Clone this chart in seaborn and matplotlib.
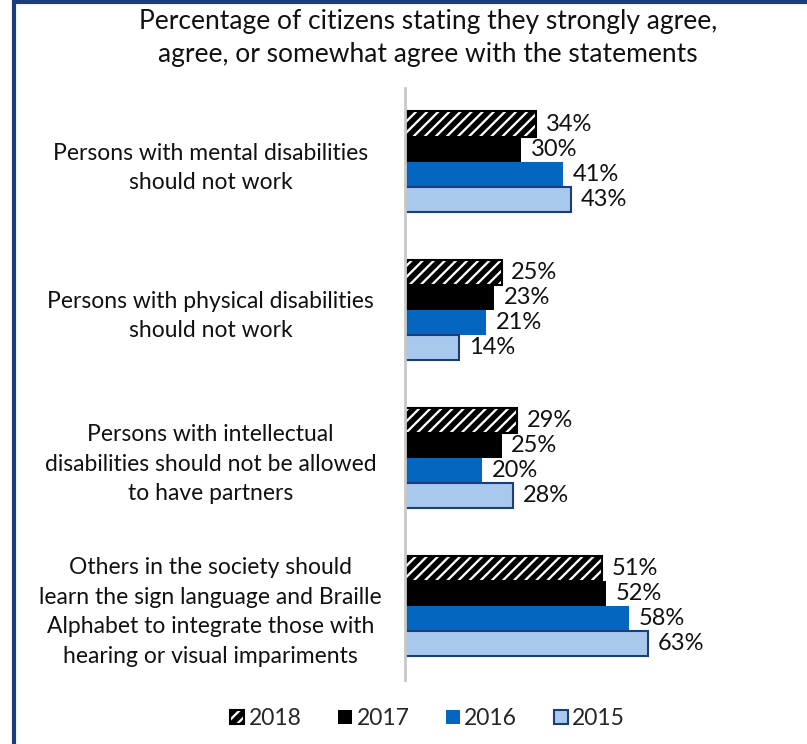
import matplotlib
matplotlib.use("Agg")
import matplotlib.pyplot as plt
import seaborn as sns
import pandas as pd
from matplotlib.patches import Rectangle
from matplotlib.lines import Line2D

categories = [
    "Persons with mental disabilities\nshould not work",
    "Persons with physical disabilities\nshould not work",
    "Persons with intellectual\ndisabilities should not be allowed\nto have partners",
    "Others in the society should\nlearn the sign language and Braille\nAlphabet to integrate those with\nhearing or visual impariments",
]
years = ["2018", "2017", "2016", "2015"]
v2018 = [34, 25, 29, 51]
v2017 = [30, 23, 25, 52]
v2016 = [41, 21, 20, 58]
v2015 = [43, 14, 28, 63]
title = "Percentage of citizens stating they strongly agree,\nagree, or somewhat agree with the statements"

series = {"2018": v2018, "2017": v2017, "2016": v2016, "2015": v2015}
rows = []
for y in years:
    for c, v in zip(categories, series[y]):
        rows.append({"category": c, "year": y, "value": v})
df = pd.DataFrame(rows)

sns.set_style("white")
plt.rcParams["font.family"] = ["Lato", "DejaVu Sans"]
plt.rcParams["hatch.linewidth"] = 4

fig = plt.figure(figsize=(8.07, 7.44), dpi=100)
ax = fig.add_axes([0.502, 0.086, 0.478, 0.796])

face = {"2018": "white", "2017": "black", "2016": "#0466BF", "2015": "#A8C8EE"}
edge = {"2018": "black", "2017": "black", "2016": "#0466BF", "2015": "#1B3D7C"}

sns.barplot(data=df, y="category", x="value", hue="year", hue_order=years,
            order=categories, orient="h", width=0.68, palette=face,
            ax=ax, legend=False, saturation=1)

for cont, y in zip(ax.containers, years):
    for bar in cont:
        bar.set_edgecolor(edge[y])
        bar.set_linewidth(1.5 if y in ("2018", "2015") else 0)
        if y == "2018":
            bar.set_hatch("///")
    ax.bar_label(cont, labels=[f"{int(v)}%" for v in cont.datavalues],
                 padding=7, fontsize=17, color="#111111")

ax.set_xlim(0, 100)
ax.set_ylim(3.5, -0.5)
ax.set_xlabel("")
ax.set_ylabel("")
ax.set_xticks([])
for s in ["top", "right", "bottom"]:
    ax.spines[s].set_visible(False)
ax.spines["left"].set_color("#C8C8C8")
ax.spines["left"].set_linewidth(2)
ax.tick_params(axis="y", length=0, pad=140)
for lab in ax.get_yticklabels():
    lab.set_ha("center")
    lab.set_multialignment("center")
    lab.set_fontsize(16.5)
    lab.set_color("#111111")
    lab.set_linespacing(1.5)

fig.text(0.53, 0.988, title, ha="center", va="top", fontsize=19,
         linespacing=1.4, color="#111111")

handles = []
for y in years:
    h = Rectangle((0, 0), 1, 1, facecolor=face[y], edgecolor=edge[y],
                  linewidth=1.5 if y in ("2018", "2015") else 0,
                  hatch="///" if y == "2018" else None)
    handles.append(h)
fig.legend(handles, years, loc="center", bbox_to_anchor=(0.53, 0.034), ncol=4,
           frameon=False, fontsize=16.5, handlelength=0.6, handleheight=0.6,
           handletextpad=0.2, columnspacing=1.6)

# frame on left and top
fig.add_artist(Line2D([0.017, 0.017], [0, 1], transform=fig.transFigure,
                      color="#1B3D7C", linewidth=3))
fig.add_artist(Line2D([0.017, 1], [0.997, 0.997], transform=fig.transFigure,
                      color="#1B3D7C", linewidth=3))

fig.savefig("out.png", dpi=100)
